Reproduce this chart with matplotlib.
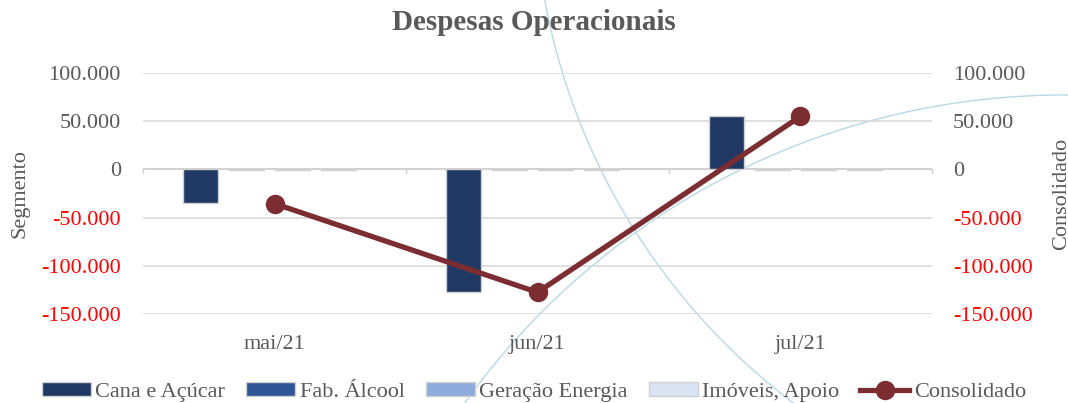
import numpy as np
import matplotlib
matplotlib.use("Agg")
import matplotlib.pyplot as plt
from matplotlib.patches import Circle

months = ["mai/21", "jun/21", "jul/21"]
series = ["Cana e Açúcar", "Fab. Álcool", "Geração Energia", "Imóveis, Apoio"]
cana = [-35000, -127000, 55500]
fab_alcool = [-600, -500, -400]
geracao = [-700, -600, -500]
imoveis = [-800, -700, -600]
consolidado = [-35500, -127500, 55000]
ticks = [100000, 50000, 0, -50000, -100000, -150000]

colors = ["#1F3864", "#2F5597", "#8FAADC", "#DAE3F3"]
line_color = "#7B2D31"
grey = "#595959"

families = ["Liberation Serif", "DejaVu Serif"]
plt.rcParams["font.family"] = families
fs = 16

fig = plt.figure(figsize=(10.68, 4.03), dpi=100)

# faint decorative arcs in the background (pixel coordinates)
bg = fig.add_axes([0, 0, 1, 1], zorder=-1)
bg.set_xlim(0, 1068)
bg.set_ylim(403, 0)
bg.axis("off")
bg.add_patch(Circle((1187, -118), 653, fill=False, ec="#B8D8E4", lw=1.0))
bg.add_patch(Circle((1064, 832), 737, fill=False, ec="#B8D8E4", lw=1.0))

ax = fig.add_axes([143 / 1068, 1 - 314 / 403, (932 - 143) / 1068, (314 - 73) / 403])
ax.patch.set_alpha(0)
x = np.arange(len(months))
step = 0.175
width = 0.133
data = [cana, fab_alcool, geracao, imoveis]
for i, (name, vals) in enumerate(zip(series, data)):
    ax.bar(x + (i - 1.5) * step - 0.02, vals, width, color=colors[i], label=name,
           edgecolor="#D0D0D0", linewidth=1.0, zorder=3)

ax.set_xlim(-0.5, 2.5)
ax.set_ylim(-150000, 100000)
ax.set_xticks(x)
ax.set_xticklabels(months, color=grey, fontsize=fs)
ax.tick_params(axis="x", length=0, pad=15)
for b in [-0.5, 0.5, 1.5, 2.5]:
    ax.plot([b, b], [0, -3500], color="#D0D0D0", lw=1, zorder=2, clip_on=False)
ax.axhline(0, color="#D0D0D0", lw=1.2, zorder=2)
ax.yaxis.grid(True, color="#D9D9D9", lw=1.2, zorder=0)
for s in ax.spines.values():
    s.set_visible(False)


def fmt(v):
    return f"{v:,.0f}".replace(",", ".")


ax.set_yticks(ticks)
ax.set_yticklabels([fmt(t) for t in ticks], fontsize=fs)
ax.tick_params(axis="y", length=0, pad=16)
for lab, t in zip(ax.get_yticklabels(), ticks):
    lab.set_color("red" if t < 0 else grey)
ax.set_ylabel("Segmento", color=grey, fontsize=fs, labelpad=8)

ax2 = ax.twinx()
ax2.set_position(ax.get_position())
ax2.set_ylim(-150000, 100000)
ax2.plot(x, consolidado, color=line_color, lw=3.8, marker="o", markersize=13,
         label="Consolidado", zorder=5)
ax2.set_yticks(ticks)
ax2.set_yticklabels([fmt(t) for t in ticks], fontsize=fs)
ax2.tick_params(axis="y", length=0, pad=15)
for lab, t in zip(ax2.get_yticklabels(), ticks):
    lab.set_color("red" if t < 0 else grey)
for s in ax2.spines.values():
    s.set_visible(False)
ax2.set_ylabel("Consolidado", color=grey, fontsize=fs, labelpad=14)

fig.text(0.5, 1 - 22 / 403, "Despesas Operacionais", ha="center", va="center",
         fontsize=21, fontweight="bold", color=grey)

h1, l1 = ax.get_legend_handles_labels()
h2, l2 = ax2.get_legend_handles_labels()
fig.legend(h1 + h2, l1 + l2, loc="center", bbox_to_anchor=(0.5, 1 - 392 / 403),
           ncol=5, frameon=False, prop={"family": families, "size": fs},
           labelcolor=grey, handlelength=2.2, handleheight=0.55,
           columnspacing=0.95, handletextpad=0.2)

fig.savefig("out.png", dpi=100)
